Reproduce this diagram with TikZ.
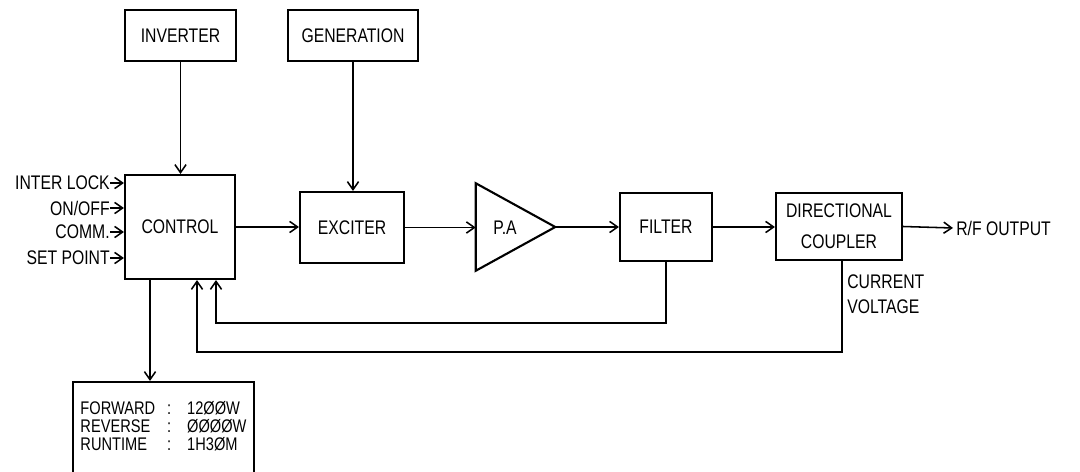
\documentclass[tikz,border=0pt]{standalone}
\usepackage{fontspec}
\setmainfont[FakeStretch=0.8]{Liberation Sans}
\usetikzlibrary{arrows.meta,positioning,calc}
\newcommand\px{0.25mm}
\tikzset{
  >={Straight Barb[length=2mm,width=2.8mm]},
  blk/.style={draw,line width=1.5pt,inner sep=0pt,align=center,
    font=\fontsize{14}{22}\selectfont},
  lbl/.style={inner sep=0pt,font=\fontsize{14}{18}\selectfont},
  sig/.style={->,line width=1.1pt},
}

\begin{document}
\begin{tikzpicture}[x=\px,y=-\px]
  \useasboundingbox (0,0) rectangle (1080,472);
  % sources on top
  \node[blk,minimum width=111*\px,minimum height=51*\px] (inv) at (180.5,35.5) {INVERTER};
  \node[blk,minimum width=130*\px,minimum height=51*\px] (gen) at (353,35.5) {GENERATION};
  % main chain
  \node[blk,minimum width=110*\px,minimum height=104*\px] (ctrl) at (180,227) {CONTROL};
  \node[blk,minimum width=104*\px,minimum height=71*\px] (exc) at (352,227.5) {EXCITER};
  \node[minimum width=79*\px,minimum height=87*\px,inner sep=0pt] (pa) at (515.5,227) {};
  \draw[line width=1.5pt] (pa.north west) -- (pa.east) -- (pa.south west) -- cycle;
  \node[lbl] (patxt) at (505,228) {P.A};
  \node[blk,minimum width=92*\px,minimum height=68*\px] (flt) at (666,227) {FILTER};
  \node[blk,minimum width=126*\px,minimum height=67*\px] (dc) at (839,226.5) {DIRECTIONAL\\COUPLER};
  \node[lbl,anchor=west] (rfout) at (956,228) {R/F OUTPUT};
  \node[lbl,anchor=west,align=left,font=\fontsize{14}{17.7}\selectfont] (cv) at (847,294.5) {CURRENT\\VOLTAGE};
  % display
  \node[blk,minimum width=181*\px,minimum height=92*\px,font=\fontsize{13}{11.7}\selectfont] (disp) at (163.5,428)
    {\begin{tabular}{@{}l@{\hspace{3mm}}l@{\hspace{4mm}}l@{}}FORWARD & : & 12ØØW\\ REVERSE & : & ØØØØW\\ RUNTIME & : & 1H3ØM\end{tabular}};
  % inputs
  \foreach \t/\y [count=\i] in {INTER LOCK/183,{ON/OFF}/208,COMM./232,SET POINT/258} {
    \node[lbl,anchor=east] (in\i) at (110,\y) {\t};
    \draw[sig] (in\i.east) -- (in\i.east -| ctrl.west);
  }
  % signal path
  \draw[sig] (inv.south) -- (inv.south |- ctrl.north);
  \draw[sig] (gen.south) -- (gen.south |- exc.north);
  \draw[sig] (ctrl.east) -- (ctrl.east -| exc.west);
  \draw[sig] (exc.east) -- (exc.east -| pa.west);
  \draw[sig] (pa.east) -- (pa.east -| flt.west);
  \draw[sig] (flt.east) -- (flt.east -| dc.west);
  \draw[sig] (dc.east) -- ([xshift=-3*\px]rfout.west);
  % feedback
  \coordinate (fb1) at (216,323);
  \coordinate (fb2) at (197,352);
  \draw[sig] (flt.south) |- (fb1) -- (fb1 |- ctrl.south);
  \draw[sig] ([xshift=3*\px]dc.south) |- (fb2) -- (fb2 |- ctrl.south);
  \coordinate (tap) at ([xshift=-30*\px]ctrl.south);
  \draw[sig] (tap) -- (tap |- disp.north);
\end{tikzpicture}
\end{document}
